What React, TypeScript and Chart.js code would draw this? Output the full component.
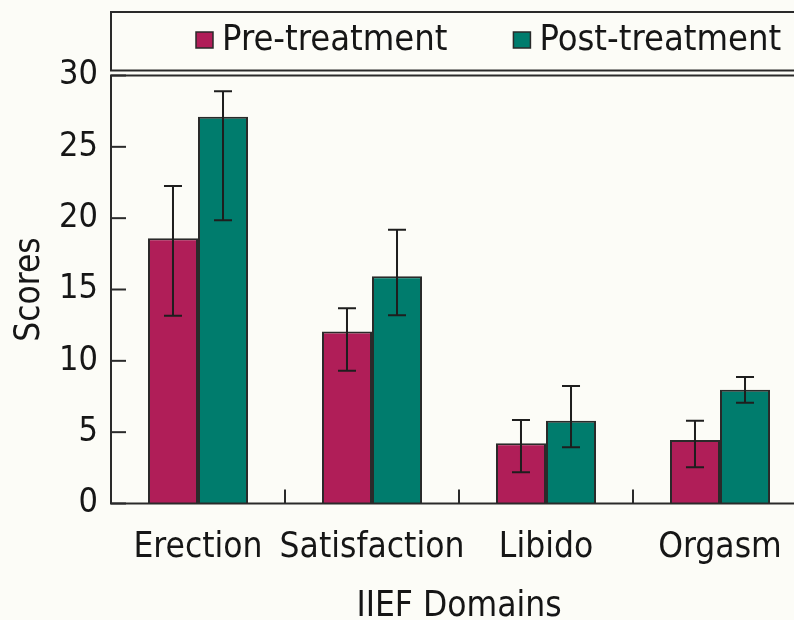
import React, { useEffect, useRef } from "react";
import { Chart, registerables } from "chart.js";

Chart.register(...registerables);

const categories = ["Erection", "Satisfaction", "Libido", "Orgasm"];
const seriesNames = ["Pre-treatment", "Post-treatment"];
const preValues = [18.6, 12.05, 4.22, 4.45];
const postValues = [27.1, 15.92, 5.8, 7.98];
const preLower = [13.16, 9.31, 2.19, 2.54];
const preUpper = [22.25, 13.68, 5.85, 5.8];
const postLower = [19.85, 13.19, 3.94, 7.07];
const postUpper = [28.9, 19.19, 8.23, 8.87];
const yTicks = [0, 5, 10, 15, 20, 25, 30];

const PRE_COLOR = "#b01e58";
const POST_COLOR = "#007c6d";
const LINE = "#2a2a2a";
const TEXT = "#161616";
const FONT = "'DejaVu Sans Condensed', 'DejaVu Sans', sans-serif";
const BG = "#fcfcf7";

const errorLow = [preLower, postLower];
const errorHigh = [preUpper, postUpper];

const framePlugin = {
  id: "frameAndExtras",
  afterDraw(chart: any) {
    const ctx = chart.ctx;
    const { left, right, top, bottom } = chart.chartArea;
    const yScale = chart.scales.y;
    const xScale = chart.scales.x;
    ctx.save();
    ctx.strokeStyle = LINE;
    ctx.lineWidth = 2;
    // inward y ticks
    yScale.ticks.forEach((t: any) => {
      const py = yScale.getPixelForValue(t.value);
      ctx.beginPath();
      ctx.moveTo(left, py);
      ctx.lineTo(left + 15, py);
      ctx.stroke();
    });
    // inward x ticks between categories
    for (let i = 1; i < categories.length; i++) {
      const px = (xScale.getPixelForValue(i - 1) + xScale.getPixelForValue(i)) / 2;
      ctx.beginPath();
      ctx.moveTo(px, bottom);
      ctx.lineTo(px, bottom - 14);
      ctx.stroke();
    }
    // frame
    ctx.beginPath();
    ctx.moveTo(right + 20, top);
    ctx.lineTo(left, top);
    ctx.lineTo(left, bottom);
    ctx.lineTo(right + 20, bottom);
    ctx.stroke();

    // legend box
    const boxTop = 12;
    const boxBottom = 70.5;
    ctx.beginPath();
    ctx.moveTo(right + 20, boxTop);
    ctx.lineTo(left, boxTop);
    ctx.lineTo(left, boxBottom);
    ctx.lineTo(right + 20, boxBottom);
    ctx.stroke();

    // legend items
    ctx.font = `36px ${FONT}`;
    ctx.textBaseline = "middle";
    ctx.textAlign = "left";
    let x = 196;
    const cy = 40;
    chart.data.datasets.forEach((ds: any) => {
      ctx.fillStyle = ds.backgroundColor;
      ctx.fillRect(x, cy - 8, 17, 16);
      ctx.lineWidth = 1.5;
      ctx.strokeStyle = LINE;
      ctx.strokeRect(x, cy - 8, 17, 16);
      ctx.fillStyle = TEXT;
      ctx.fillText(ds.label, x + 26, cy + 1);
      x += 26 + ctx.measureText(ds.label).width + 66;
    });
    ctx.restore();
  },
  afterDatasetsDraw(chart: any) {
    const ctx = chart.ctx;
    const yScale = chart.scales.y;
    ctx.save();
    ctx.strokeStyle = "#1e1e1e";
    ctx.lineWidth = 2;
    chart.data.datasets.forEach((_: any, di: number) => {
      const meta = chart.getDatasetMeta(di);
      meta.data.forEach((bar: any, j: number) => {
        const x = bar.x;
        const yl = yScale.getPixelForValue(errorLow[di][j]);
        const yh = yScale.getPixelForValue(errorHigh[di][j]);
        const cap = 9;
        ctx.beginPath();
        ctx.moveTo(x, yl);
        ctx.lineTo(x, yh);
        ctx.moveTo(x - cap, yl);
        ctx.lineTo(x + cap, yl);
        ctx.moveTo(x - cap, yh);
        ctx.lineTo(x + cap, yh);
        ctx.stroke();
      });
    });
    ctx.restore();
  },
};

export default function App() {
  const ref = useRef<HTMLCanvasElement | null>(null);
  useEffect(() => {
    if (!ref.current) return;
    const chart = new Chart(ref.current, {
      type: "bar",
      data: {
        labels: categories,
        datasets: [
          {
            label: seriesNames[0],
            data: preValues,
            backgroundColor: PRE_COLOR,
            borderColor: LINE,
            borderWidth: 2,
            categoryPercentage: 0.575,
            barPercentage: 1,
          },
          {
            label: seriesNames[1],
            data: postValues,
            backgroundColor: POST_COLOR,
            borderColor: LINE,
            borderWidth: 2,
            categoryPercentage: 0.575,
            barPercentage: 1,
          },
        ],
      },
      options: {
        responsive: false,
        animation: false,
        devicePixelRatio: 1,
        layout: { padding: { top: 75.5, right: 13, left: 0, bottom: 0 } },
        plugins: {
          legend: { display: false },
          tooltip: { enabled: false },
        },
        scales: {
          x: {
            grid: { display: false, drawTicks: false },
            border: { display: false },
            ticks: {
              color: TEXT,
              font: { family: FONT, size: 35 },
              padding: 23,
              maxRotation: 0,
              autoSkip: false,
            },
            title: {
              display: true,
              text: "IIEF Domains",
              color: TEXT,
              font: { family: FONT, size: 35 },
              padding: { top: 0, bottom: -8 },
            },
            afterFit: (s: any) => {
              s.height = 116.5;
            },
          },
          y: {
            min: 0,
            max: 30,
            afterBuildTicks: (s: any) => {
              s.ticks = yTicks.map((v) => ({ value: v }));
            },
            grid: { display: false, drawTicks: false },
            border: { display: false },
            ticks: {
              color: TEXT,
              font: { family: FONT, size: 34 },
              padding: 13,
            },
            title: {
              display: true,
              text: "Scores",
              color: TEXT,
              font: { family: FONT, size: 35 },
              padding: { top: 9, bottom: 0 },
            },
            afterFit: (s: any) => {
              s.width = 111;
            },
          },
        },
      },
      plugins: [framePlugin],
    });
    return () => chart.destroy();
  }, []);

  return (
    <div
      style={{
        position: "absolute",
        left: 0,
        top: 0,
        width: 794,
        height: 620,
        overflow: "hidden",
        background: BG,
      }}
    >
      <canvas ref={ref} width={820} height={620} style={{ display: "block" }} />
    </div>
  );
}
